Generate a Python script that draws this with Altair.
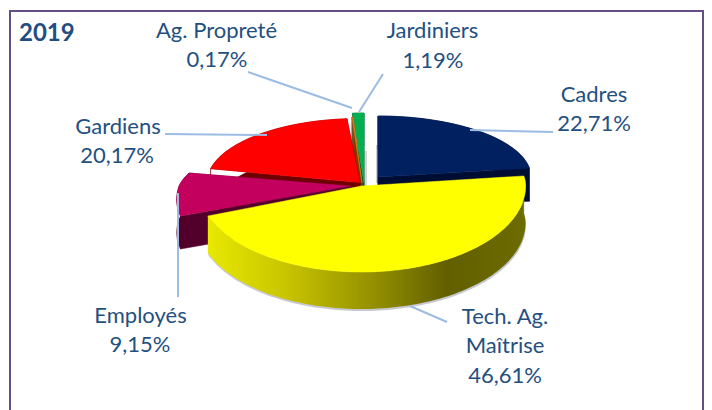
import math
import altair as alt

# ---- data ----
categories = ["Cadres", "Tech. Ag. Maîtrise", "Employés", "Gardiens", "Ag. Propreté", "Jardiniers"]
shares = [22.71, 46.61, 9.15, 20.17, 0.17, 1.19]
share_labels = ["22,71%", "46,61%", "9,15%", "20,17%", "0,17%", "1,19%"]
title_text = "2019"

TEXT = "#24507f"
LEAD = "#9cbce4"
FONT = "Lato"
W, H = 696, 402

# ---- slice look: fill, wall, apex x/y, radius, back/front squash, perspective, depth ----
look = {
    "Cadres": ("#002060", "#000d33", 370, 169, 153, 61, 80, 0.0, 33),
    "Tech. Ag. Maîtrise": ("#ffff00", "#7a7a00", 353.5, 178, 164, 70, 86, 0.0, 37),
    "Employés": ("#c4005f", "#52002b", 342, 178, 171, 60, 86, 0.166, 33),
    "Gardiens": ("#ff0000", "#6e0000", 352, 174.5, 153, 64, 80, 0.0, 33),
    "Ag. Propreté": ("#e8781a", "#7a3a00", 354, 175, 118, 66, 80, 0.0, 33),
    "Jardiniers": ("#00b050", "#0b5a2a", 356, 175, 153, 70, 80, 0.0, 33),
}


def edge(name, t):
    _, _, cx, cy, r, ryb, ryf, k, _ = look[name]
    c, s = math.cos(t), math.sin(t)
    return (cx + r * (1 - k * c) * s, cy - (ryb if c >= 0 else ryf) * c)


spans = {}
acc = 0.0
for n, v in zip(categories, shares):
    spans[n] = (acc * 3.6, (acc + v) * 3.6)
    acc += v


def arc_points(name):
    a, b = spans[name]
    steps = max(2, int((b - a) / 1.5))
    return [edge(name, math.radians(a + (b - a) * i / steps)) for i in range(steps + 1)]


def closed(ring):
    return [list(p) for p in ring] + [list(ring[0])]


def top_poly(name):
    apex = (look[name][2], look[name][3])
    return {"type": "Polygon", "coordinates": [closed([apex] + arc_points(name))]}


def shift(pts, d):
    return [(x, y + d) for x, y in pts]


def wall_poly(name, extra=0.0, dx=0.0, radial=True):
    apex = (look[name][2], look[name][3])
    d = look[name][8] + extra
    pts = [(x + dx, y) for x, y in arc_points(name)]
    polys = [[closed(pts + shift(pts, d)[::-1])]]
    if radial:
        for p in (pts[0], pts[-1]):
            polys.append([closed([apex, p, (p[0], p[1] + d), (apex[0], apex[1] + d)])])
    return {"type": "MultiPolygon", "coordinates": polys}


def soft_edge(name, dx0, dx1, top):
    """Faint vertical shadow beside a slice's radial face."""
    cx, cy = look[name][2], look[name][3]
    return {"type": "Polygon", "coordinates": [closed([
        (cx + dx0, cy - top), (cx + dx1, cy - top), (cx + dx1, cy + 6), (cx + dx0, cy + 6)])]}


def shape(geom, **mark):
    feature = {"type": "Feature", "geometry": geom, "properties": {}}
    return alt.Chart(alt.Data(values=[feature], format=alt.DataFormat(type="json"))).mark_geoshape(
        **mark
    ).project(type="identity", scale=1, translate=[0, 0])


layers = []

# frame (open at the bottom, like the reference)
frame = [[2, H], [2, 3], [W - 1, 3], [W - 1, H]]
layers.append(shape({"type": "LineString", "coordinates": frame}, fill=None, filled=False,
                    stroke="#654d85", strokeWidth=2))

yellow_gradient = alt.Gradient(
    gradient="linear", x1=0, x2=1, y1=0, y2=0,
    stops=[
        alt.GradientStop(offset=0.0, color="#e8e800"),
        alt.GradientStop(offset=0.25, color="#c8c400"),
        alt.GradientStop(offset=0.55, color="#8e8a00"),
        alt.GradientStop(offset=0.75, color="#625f00"),
        alt.GradientStop(offset=1.0, color="#6c6c00"),
    ],
)

layers.append(shape(soft_edge("Cadres", -2, 0, 32), fill="#cfcfcf"))
layers.append(shape(soft_edge("Jardiniers", 0, 3, 32), fill="#d6d6d6"))

for name in ["Jardiniers", "Ag. Propreté", "Gardiens", "Cadres", "Employés"]:
    fill, wall = look[name][0], look[name][1]
    layers.append(shape(wall_poly(name), fill=wall, stroke=wall, strokeWidth=0.5))
    layers.append(shape(top_poly(name), fill=fill, stroke=fill, strokeWidth=0.5))

yn = "Tech. Ag. Maîtrise"
layers.append(shape(wall_poly(yn, extra=2, dx=0.5, radial=False), fill="#9a9aa8", opacity=0.55))
layers.append(shape(wall_poly(yn, radial=False), fill=yellow_gradient))
layers.append(shape(top_poly(yn), fill="#ffff00", stroke="#ffff00", strokeWidth=0.5))

# leader lines
leaders = [
    [[462, 122], [545, 124]],
    [[351, 104], [375, 66]],
    [[344, 100], [240, 64]],
    [[157, 126], [259, 127]],
    [[170, 185], [170, 289]],
    [[402, 298], [439, 314]],
]
for line in leaders:
    layers.append(shape({"type": "LineString", "coordinates": line}, fill=None, filled=False,
                        stroke=LEAD, strokeWidth=2))

# labels
label_rows = [
    ("Ag. Propreté", 208.5, 23), (share_labels[4], 209, 52),
    ("Jardiniers", 424.5, 23), (share_labels[5], 425, 53),
    ("Cadres", 586, 87), (share_labels[0], 586, 116),
    ("Gardiens", 110, 119), (share_labels[3], 109, 148),
    ("Employés", 132.5, 308), (share_labels[2], 132, 337),
    ("Tech. Ag.", 497, 309), ("Maîtrise", 497, 338), (share_labels[1], 497, 368),
]
label_values = [{"t": t, "lon": x, "lat": y} for t, x, y in label_rows]
labels = alt.Chart(alt.Data(values=label_values)).mark_text(
    font=FONT, fontSize=22, color=TEXT, align="center", baseline="middle"
).encode(longitude="lon:Q", latitude="lat:Q", text="t:N").project(
    type="identity", scale=1, translate=[0, 0]
)
layers.append(labels)

title = alt.Chart(alt.Data(values=[{"t": title_text, "lon": 11, "lat": 26}])).mark_text(
    font=FONT, fontSize=24, fontWeight="bold", color="#1f4e82", align="left", baseline="middle"
).encode(longitude="lon:Q", latitude="lat:Q", text="t:N").project(
    type="identity", scale=1, translate=[0, 0]
)
layers.append(title)

chart = alt.layer(*layers).properties(
    width=W, height=H, padding=0, background="white"
).configure_view(stroke=None)

chart.save("out.html", embed_options={"renderer": "svg", "actions": False})
